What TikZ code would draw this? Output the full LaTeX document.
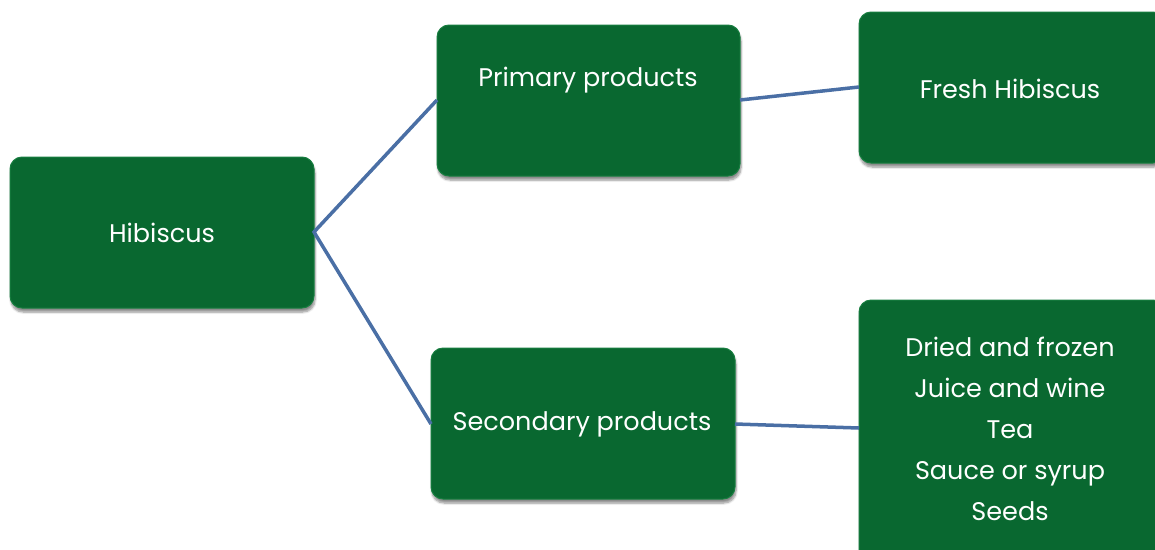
\documentclass[tikz,border=0pt]{standalone}
\usepackage{fontspec}
\setmainfont{Poppins}
\usetikzlibrary{shadows.blur}
\definecolor{leaf}{RGB}{9,104,48}
\definecolor{leafedge}{RGB}{24,126,64}
\definecolor{link}{RGB}{74,111,165}
\begin{document}
\begin{tikzpicture}[x=1pt,y=-1pt,
  box/.style={draw=leafedge,line width=1pt,fill=leaf,rounded corners=12pt,
    blur shadow={shadow xshift=1pt,shadow yshift=-4pt,shadow blur steps=6,shadow opacity=45}},
  lbl/.style={text=white,font=\fontsize{25.5}{41}\selectfont,align=center},
  conn/.style={draw=link,line width=3.5pt}]
\useasboundingbox (0,0) rectangle (1155,549);
% boxes
\path[box] (10,157) rectangle (314,308);
\path[box] (437,25) rectangle (740,176);
\path[box] (859,12) rectangle (1165,163);
\path[box] (431,348) rectangle (735,499);
\path[box] (859,300) rectangle (1165,570);
% anchors for connectors
\coordinate (hibR) at (314,232);
\coordinate (priL) at (437,100);
\coordinate (priR) at (740,100);
\coordinate (freL) at (859,87);
\coordinate (secL) at (431,424);
\coordinate (secR) at (735,424);
\coordinate (lstL) at (859,428);
\draw[conn] (priL) -- (hibR) -- (secL);
\draw[conn] (priR) -- (freL);
\draw[conn] (secR) -- (lstL);
% labels
\node[lbl] (hib) at (162,233) {Hibiscus};
\node[lbl] (pri) at (588,80) {Primary products};
\node[lbl] (fre) at (1010,89) {Fresh Hibiscus};
\node[lbl] (sec) at (582,424) {Secondary products};
\node[lbl] (lst) at (1010,429) {Dried and frozen\\Juice and wine\\Tea\\Sauce or syrup\\Seeds};
\end{tikzpicture}
\end{document}
